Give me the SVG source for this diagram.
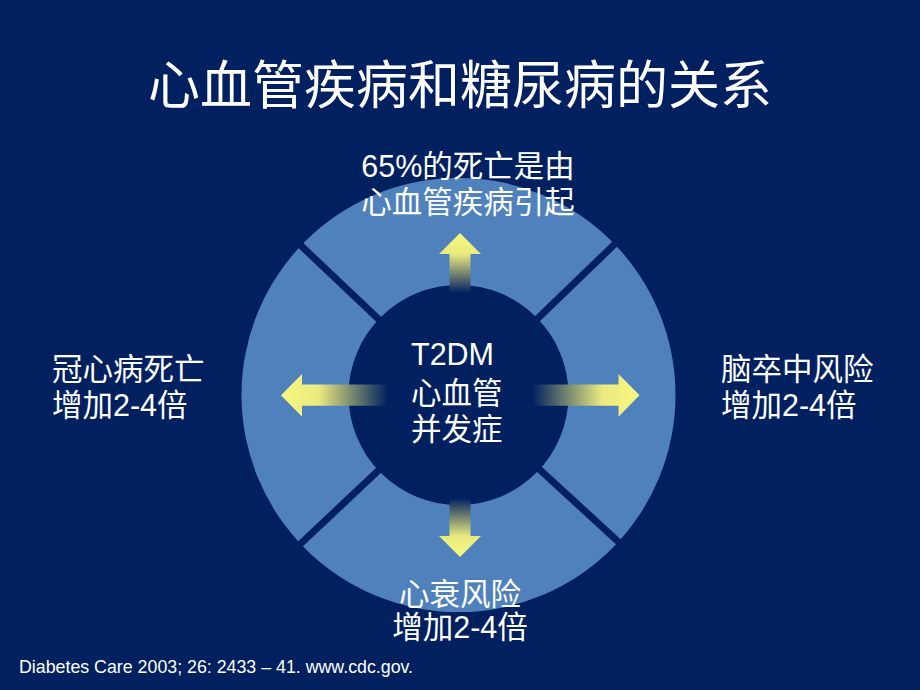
<svg xmlns="http://www.w3.org/2000/svg" width="920" height="690" viewBox="0 0 920 690">
<defs>
<style>
.t{font-family:"Liberation Sans","Noto Sans CJK SC",sans-serif;fill:#ffffff;}
.lbl{font-size:30.5px;}
.mid{text-anchor:middle;}
</style>
<linearGradient id="gUp" gradientUnits="userSpaceOnUse" x1="0" y1="233" x2="0" y2="293">
<stop offset="0" stop-color="#f8f87f"/><stop offset="0.35" stop-color="#eaea80"/><stop offset="1" stop-color="#002060"/>
</linearGradient>
<linearGradient id="gDown" gradientUnits="userSpaceOnUse" x1="0" y1="557" x2="0" y2="498">
<stop offset="0" stop-color="#f8f87f"/><stop offset="0.35" stop-color="#eaea80"/><stop offset="1" stop-color="#002060"/>
</linearGradient>
<linearGradient id="gLeft" gradientUnits="userSpaceOnUse" x1="281" y1="0" x2="388" y2="0">
<stop offset="0" stop-color="#f8f87f"/><stop offset="0.35" stop-color="#eaea80"/><stop offset="1" stop-color="#002060"/>
</linearGradient>
<linearGradient id="gRight" gradientUnits="userSpaceOnUse" x1="640" y1="0" x2="532" y2="0">
<stop offset="0" stop-color="#f8f87f"/><stop offset="0.35" stop-color="#eaea80"/><stop offset="1" stop-color="#002060"/>
</linearGradient>
</defs>
<rect x="0" y="0" width="920" height="690" fill="#002060"/>
<text id="title" class="t mid" x="460" y="104" font-size="52">心血管疾病和糖尿病的关系</text>
<g id="ring">
<path d="M 241.5 395 A 217 217 0 1 0 675.5 395 A 217 217 0 1 0 241.5 395 Z M 348.5 395 A 110 110 0 1 0 568.5 395 A 110 110 0 1 0 348.5 395 Z" fill="#4f81bd" fill-rule="evenodd"/>
<g stroke="#002060" stroke-width="7">
<line x1="458.5" y1="395" x2="294" y2="239"/>
<line x1="458.5" y1="395" x2="620" y2="239"/>
<line x1="458.5" y1="395" x2="624" y2="547"/>
<line x1="458.5" y1="395" x2="294" y2="550"/>
</g>
</g>
<g id="center">
<text class="t lbl" x="411" y="365">T2DM</text>
<text class="t lbl" x="411" y="404">心血管</text>
<text class="t lbl" x="411" y="440">并发症</text>
</g>
<g id="connectors">
<polygon points="460,233 481,254 470.5,254 470.5,293 449.5,293 449.5,254 439,254" fill="url(#gUp)"/>
<polygon points="460,557 481,536 470.5,536 470.5,498 449.5,498 449.5,536 439,536" fill="url(#gDown)"/>
<polygon points="281,395.3 302,374 302,384.5 387,384.5 387,405.8 302,405.8 302,416.7" fill="url(#gLeft)"/>
<polygon points="639.5,395.3 618.5,374 618.5,384.5 532,384.5 532,405.8 618.5,405.8 618.5,416.7" fill="url(#gRight)"/>
</g>
<g id="top">
<text class="t lbl mid" x="468" y="177">65%的死亡是由</text>
<text class="t lbl mid" x="468" y="213">心血管疾病引起</text>
</g>
<g id="left">
<text class="t lbl" x="52" y="380">冠心病死亡</text>
<text class="t lbl" x="52" y="416">增加2-4倍</text>
</g>
<g id="right">
<text class="t lbl" x="721" y="380">脑卒中风险</text>
<text class="t lbl" x="721" y="416">增加2-4倍</text>
</g>
<g id="bottom">
<text class="t lbl mid" x="460" y="605">心衰风险</text>
<text class="t lbl mid" x="460" y="638">增加2-4倍</text>
</g>
<text id="footer" class="t" x="19" y="673" font-size="17.8" fill="#e8ecf4">Diabetes Care 2003; 26: 2433 – 41. www.cdc.gov.</text>
</svg>
